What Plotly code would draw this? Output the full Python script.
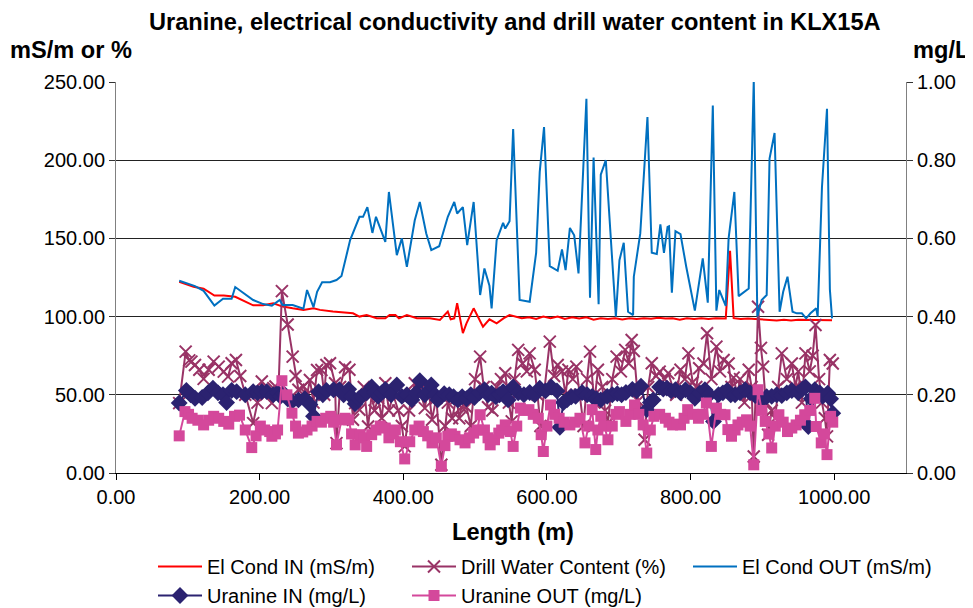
import plotly.graph_objects as go

# El Cond IN (mS/m)
el_in_len = [88, 108, 122, 137, 150, 166, 191, 205, 219, 232, 246, 261, 275, 284, 302, 321, 330, 339, 349, 363,
             375, 381, 389, 394, 405, 419, 437, 451, 462, 466, 471, 475, 483, 488, 498, 511, 520, 530, 540, 548,
             556, 565, 575, 585, 595, 605, 615, 625, 635, 645, 655, 665, 675, 685, 695, 705, 715, 725, 735, 745,
             755, 765, 775, 785, 795, 805, 815, 825, 835, 845, 849, 855, 860, 870, 880, 890, 900, 910, 920, 930,
             940, 950, 960, 970, 980, 990, 997]
el_in_val = [122.3, 119.1, 117.8, 113.5, 113.5, 112.7, 107.2, 107.2, 108.5, 106.4, 105.3, 104.3, 105.3, 104.3, 103.2,
             102.6, 102.1, 100.0, 101.0, 98.9, 98.9, 101.0, 101.0, 98.9, 101.0, 98.9, 98.9, 97.8, 103.2, 98.3,
             98.9, 108.5, 89.4, 95.7, 105.3, 93.6, 98.3, 95.7, 99.0, 101.0, 100.0, 99.0, 99.5, 98.5, 100.0, 99.0,
             100.0, 98.5, 99.5, 98.8, 99.5, 98.0, 99.0, 98.5, 99.0, 98.2, 99.0, 98.5, 99.0, 98.6, 99.2, 98.8,
             99.0, 98.0, 99.0, 98.5, 99.0, 98.5, 99.0, 98.6, 98.8, 142.0, 99.0, 98.5, 98.8, 98.5, 98.2, 97.8,
             97.5, 98.0, 97.5, 98.0, 98.0, 97.6, 97.6, 97.6, 97.6]

# El Cond OUT (mS/m)
el_out_len = [88, 101, 110, 122, 137, 149, 161, 166, 191, 205, 217, 228, 232, 246, 261, 266, 275, 280, 287, 298,
              307, 314, 326, 339, 344, 350, 357, 362, 375, 380, 391, 398, 405, 416, 423, 432, 439, 450, 462, 471,
              475, 483, 489, 498, 507, 513, 520, 523, 530, 535, 539, 542, 548, 553, 562, 576, 585, 590, 596, 604,
              615, 621, 626, 632, 638, 644, 651, 655, 660, 665, 672, 675, 682, 696, 701, 707, 713, 720, 721, 730,
              740, 746, 753, 758, 763, 768, 770, 774, 779, 786, 794, 806, 817, 824, 831, 836, 840, 849, 853, 861,
              867, 881, 888, 893, 899, 906, 910, 917, 924, 929, 935, 942, 948, 955, 961, 967, 975, 977, 983, 990,
              994, 997]
el_out_val = [122.9, 120.6, 119.5, 116.5, 107.0, 111.4, 111.4, 118.9, 110.6, 108.0, 107.0, 110.6, 107.4, 107.4, 105.0,
              117.0, 106.0, 115.9, 122.0, 122.0, 123.4, 126.0, 148.9, 163.8, 163.8, 170.0, 153.5, 163.8, 147.8, 179.7,
              139.3, 150.0, 131.8, 161.6, 173.3, 153.1, 142.5, 145.0, 163.8, 173.3, 165.9, 170.0, 145.7, 173.3, 113.8,
              130.8, 119.7, 105.3, 148.9, 155.0, 160.0, 156.3, 161.0, 220.0, 110.6, 109.5, 140.8, 192.5, 221.2, 132.3,
              129.3, 143.0, 129.7, 156.7, 152.0, 127.6, 195.0, 239.3, 112.0, 201.7, 107.9, 190.8, 200.0, 99.9, 136.1,
              147.2, 103.1, 101.0, 125.5, 153.2, 227.6, 140.8, 140.0, 158.9, 140.8, 157.4, 157.8, 115.3, 154.6, 152.7,
              131.9, 103.8, 137.2, 108.9, 235.0, 103.8, 117.0, 106.8, 150.0, 179.7, 113.1, 118.0, 251.0, 100.0, 110.6,
              113.8, 201.0, 217.4, 103.1, 115.9, 125.5, 103.1, 102.1, 102.1, 98.9, 102.1, 105.3, 100.0, 182.9, 232.9,
              117.4, 98.9]

# Drill Water Content (%)
dw_len = [88, 97, 102, 105, 110, 116, 122, 129, 136, 143, 150, 156, 161, 167, 173, 180, 191, 197, 203, 209,
          217, 219, 222, 226, 231, 239, 246, 250, 254, 261, 266, 270, 275, 280, 286, 290, 293, 298, 305, 307,
          312, 319, 325, 330, 333, 339, 345, 351, 356, 360, 365, 370, 375, 380, 386, 393, 398, 402, 408, 416,
          423, 430, 435, 440, 446, 453, 458, 462, 468, 474, 478, 481, 488, 494, 500, 507, 512, 518, 524, 530,
          536, 542, 547, 551, 555, 560, 566, 572, 576, 583, 587, 591, 597, 604, 610, 615, 621, 626, 630, 636,
          641, 646, 651, 656, 660, 666, 671, 677, 681, 685, 691, 697, 703, 709, 714, 718, 721, 727, 732, 736,
          741, 746, 752, 757, 764, 769, 775, 780, 786, 792, 797, 803, 808, 812, 818, 823, 829, 836, 841, 846,
          853, 857, 860, 865, 869, 875, 881, 885, 888, 894, 898, 901, 905, 908, 913, 918, 922, 927, 934, 941,
          946, 950, 955, 960, 966, 970, 974, 979, 983, 987, 990, 994, 998]
dw_val = [44.7, 77.6, 72.0, 71.2, 69.1, 66.0, 60.2, 66.0, 71.2, 68.0, 64.8, 61.6, 70.2, 72.3, 62.0, 50.0, 31.9, 45.0, 58.5, 50.0,
          44.7, 54.2, 55.3, 50.0, 116.3, 95.0, 74.4, 62.0, 53.2, 55.3, 50.0, 59.5, 45.0, 65.9, 65.9, 50.0, 69.1, 70.2, 57.4, 19.1,
          55.0, 67.6, 66.0, 34.0, 44.7, 40.4, 55.0, 29.7, 50.0, 40.0, 48.0, 35.0, 57.4, 40.0, 50.0, 40.0, 30.0, 17.0, 40.0, 57.4,
          53.2, 41.5, 55.0, 34.0, 48.0, 5.3, 30.0, 45.0, 35.0, 48.0, 35.0, 42.0, 42.0, 30.0, 60.0, 74.4, 55.0, 42.0, 40.0, 55.0,
          60.0, 63.8, 45.0, 33.0, 60.0, 78.7, 70.0, 65.0, 76.5, 66.0, 50.0, 30.0, 55.0, 84.0, 62.0, 69.0, 65.0, 50.0, 66.0, 60.0,
          68.0, 50.0, 30.0, 60.0, 77.6, 45.0, 66.0, 55.0, 40.0, 32.0, 60.0, 74.4, 65.0, 78.7, 70.0, 85.0, 78.0, 46.0, 40.0, 21.3,
          55.0, 70.2, 62.0, 64.8, 60.0, 63.8, 55.0, 50.0, 66.0, 60.0, 76.5, 58.0, 55.0, 67.0, 70.0, 89.3, 60.0, 80.8, 65.0, 72.3,
          70.0, 55.0, 61.0, 50.0, 60.0, 45.0, 66.0, 55.0, 10.6, 106.3, 80.0, 68.0, 45.0, 24.5, 40.0, 35.0, 55.0, 76.5, 60.0, 70.0,
          55.0, 65.0, 45.0, 76.5, 65.0, 75.0, 94.6, 60.0, 45.0, 35.0, 23.4, 72.3, 70.0]

# Uranine IN (mg/L)
uin_len = [88, 98, 104, 110, 120, 128, 135, 142, 149, 154, 161, 168, 180, 191, 197, 203, 210, 219, 225, 229,
           233, 239, 245, 254, 263, 270, 275, 282, 288, 293, 303, 311, 317, 324, 328, 333, 338, 342, 349, 356,
           360, 365, 370, 375, 383, 391, 398, 405, 412, 418, 423, 430, 435, 439, 444, 448, 457, 464, 470, 476,
           482, 488, 494, 499, 506, 513, 518, 523, 529, 534, 539, 546, 553, 560, 568, 576, 583, 590, 598, 606,
           614, 618, 623, 628, 634, 640, 649, 656, 663, 669, 675, 684, 691, 698, 704, 710, 719, 725, 731, 739,
           744, 748, 757, 762, 767, 773, 779, 786, 793, 800, 806, 813, 820, 826, 832, 839, 845, 851, 856, 862,
           869, 876, 883, 890, 899, 906, 913, 920, 927, 934, 941, 950, 956, 960, 964, 968, 973, 980, 984, 991,
           995, 998]
uin_val = [0.179, 0.211, 0.200, 0.191, 0.193, 0.205, 0.217, 0.205, 0.200, 0.180, 0.211, 0.208, 0.200, 0.208, 0.205, 0.208, 0.208, 0.200, 0.205, 0.196,
           0.204, 0.190, 0.183, 0.187, 0.190, 0.175, 0.145, 0.208, 0.200, 0.211, 0.213, 0.213, 0.200, 0.214, 0.195, 0.177, 0.190, 0.196, 0.205, 0.220,
           0.205, 0.196, 0.205, 0.214, 0.200, 0.225, 0.196, 0.200, 0.187, 0.205, 0.236, 0.200, 0.210, 0.225, 0.200, 0.187, 0.203, 0.200, 0.195, 0.187,
           0.195, 0.190, 0.200, 0.193, 0.205, 0.213, 0.200, 0.204, 0.195, 0.200, 0.208, 0.187, 0.220, 0.205, 0.200, 0.206, 0.200, 0.217, 0.210, 0.220,
           0.210, 0.117, 0.180, 0.187, 0.195, 0.196, 0.206, 0.200, 0.196, 0.190, 0.187, 0.196, 0.200, 0.203, 0.200, 0.206, 0.214, 0.210, 0.222, 0.162,
           0.180, 0.187, 0.220, 0.215, 0.217, 0.210, 0.213, 0.205, 0.213, 0.205, 0.191, 0.205, 0.213, 0.200, 0.132, 0.200, 0.205, 0.211, 0.200, 0.200,
           0.205, 0.213, 0.205, 0.198, 0.187, 0.195, 0.196, 0.200, 0.198, 0.205, 0.211, 0.205, 0.215, 0.220, 0.119, 0.190, 0.213, 0.205, 0.196, 0.204,
           0.190, 0.153]

# Uranine OUT (mg/L)
uout_len = [88, 96, 101, 106, 114, 122, 129, 136, 143, 150, 157, 165, 172, 180, 189, 195, 201, 207, 214, 217,
            222, 225, 231, 238, 245, 250, 254, 260, 266, 273, 280, 286, 292, 299, 303, 307, 314, 319, 324, 328,
            333, 340, 345, 349, 356, 362, 368, 375, 380, 385, 389, 396, 402, 409, 416, 422, 428, 434, 440, 446,
            453, 458, 462, 467, 472, 479, 486, 492, 498, 503, 507, 513, 518, 521, 527, 533, 537, 542, 549, 553,
            558, 563, 569, 575, 581, 588, 592, 595, 600, 605, 611, 617, 624, 632, 639, 646, 653, 658, 663, 668,
            671, 675, 680, 685, 691, 696, 701, 710, 716, 722, 728, 734, 739, 744, 749, 757, 765, 770, 775, 781,
            786, 791, 796, 804, 811, 817, 822, 829, 836, 842, 848, 852, 857, 862, 866, 872, 878, 883, 888, 894,
            899, 904, 909, 913, 918, 923, 929, 935, 941, 947, 953, 959, 966, 973, 975, 982, 986, 990, 995, 998]
uout_val = [0.095, 0.157, 0.150, 0.140, 0.135, 0.123, 0.135, 0.145, 0.140, 0.132, 0.125, 0.145, 0.148, 0.110, 0.065, 0.095, 0.120, 0.110, 0.106, 0.094,
            0.100, 0.110, 0.236, 0.200, 0.153, 0.120, 0.102, 0.105, 0.110, 0.120, 0.132, 0.130, 0.140, 0.145, 0.130, 0.072, 0.136, 0.140, 0.136, 0.100,
            0.072, 0.098, 0.090, 0.068, 0.098, 0.110, 0.120, 0.115, 0.090, 0.100, 0.110, 0.080, 0.036, 0.080, 0.110, 0.120, 0.106, 0.095, 0.077, 0.090,
            0.017, 0.070, 0.094, 0.100, 0.094, 0.085, 0.077, 0.090, 0.102, 0.110, 0.149, 0.110, 0.090, 0.072, 0.085, 0.102, 0.110, 0.123, 0.106, 0.068,
            0.120, 0.166, 0.160, 0.162, 0.150, 0.140, 0.098, 0.055, 0.120, 0.174, 0.150, 0.140, 0.130, 0.123, 0.130, 0.140, 0.077, 0.120, 0.162, 0.060,
            0.110, 0.145, 0.120, 0.085, 0.120, 0.150, 0.157, 0.132, 0.150, 0.174, 0.150, 0.123, 0.051, 0.110, 0.145, 0.150, 0.140, 0.130, 0.123, 0.125,
            0.123, 0.140, 0.162, 0.150, 0.140, 0.150, 0.179, 0.068, 0.166, 0.150, 0.149, 0.111, 0.094, 0.110, 0.123, 0.130, 0.136, 0.120, 0.021, 0.213,
            0.160, 0.132, 0.100, 0.064, 0.120, 0.149, 0.130, 0.106, 0.115, 0.123, 0.135, 0.149, 0.160, 0.191, 0.119, 0.077, 0.100, 0.047, 0.145, 0.130]

FONT = "Liberation Sans, Arial, sans-serif"
W, H = 965, 600  # page body has an 8px margin

fig = go.Figure()

fig.add_trace(go.Scatter(x=el_in_len, y=el_in_val, name="El Cond IN (mS/m)", mode="lines",
                         line=dict(color="#FF0000", width=2), legend="legend", legendgroup="a"))
fig.add_trace(go.Scatter(x=dw_len, y=dw_val, name="Drill Water Content (%)", mode="lines+markers",
                         line=dict(color="#993366", width=2),
                         marker=dict(symbol="x-thin", size=12, line=dict(color="#993366", width=2)),
                         legend="legend2", legendgroup="b"))
fig.add_trace(go.Scatter(x=el_out_len, y=el_out_val, name="El Cond OUT (mS/m)", mode="lines",
                         line=dict(color="#0070C0", width=2), legend="legend3", legendgroup="c"))
fig.add_trace(go.Scatter(x=uin_len, y=uin_val, name="Uranine IN (mg/L)", mode="lines+markers", yaxis="y2",
                         line=dict(color="#2B2270", width=2),
                         marker=dict(symbol="diamond", size=13, color="#2B2270"), legend="legend", legendgroup="d"))
fig.add_trace(go.Scatter(x=uout_len, y=uout_val, name="Uranine OUT (mg/L)", mode="lines+markers", yaxis="y2",
                         line=dict(color="#D4489B", width=2),
                         marker=dict(symbol="square", size=11, color="#D4489B"), legend="legend2", legendgroup="e"))

leg = dict(orientation="v", xref="container", yref="container", yanchor="top", xanchor="left",
           traceorder="grouped", tracegroupgap=0, itemwidth=44,
           font=dict(family=FONT, size=20, color="black"), bgcolor="rgba(0,0,0,0)")
leg_top = 1 - 539 / H

fig.update_layout(
    width=W, height=H,
    margin=dict(l=108, r=67, t=74, b=135, autoexpand=False),
    plot_bgcolor="white", paper_bgcolor="white",
    font=dict(family=FONT, size=20, color="black"),
    xaxis=dict(range=[0, 1100], dtick=200, tick0=0, tickformat=".2f", showgrid=False, zeroline=False,
               showline=True, linecolor="black", linewidth=1, ticks="outside", ticklen=6, tickcolor="black"),
    yaxis=dict(range=[0, 250], dtick=50, tickformat=".2f", showgrid=True, gridcolor="#222", gridwidth=1,
               zeroline=False, showline=True, linecolor="#808080", linewidth=1, ticks="outside", ticklen=6,
               tickcolor="#333"),
    yaxis2=dict(range=[0, 1], dtick=0.2, tickformat=".2f", overlaying="y", side="right", showgrid=False,
                zeroline=False, showline=True, linecolor="#808080", linewidth=1, ticks="outside", ticklen=6,
                tickcolor="#333"),
    legend=dict(leg, x=145 / W, y=leg_top),
    legend2=dict(leg, x=399 / W, y=leg_top),
    legend3=dict(leg, x=680 / W, y=leg_top),
    showlegend=True,
)

bold = dict(family=FONT, size=23.6, color="black")
fig.add_annotation(text="<b>Uranine, electrical conductivity and drill water content in KLX15A</b>",
                   xref="paper", yref="paper", x=0.505, y=1.1535, xanchor="center", yanchor="middle",
                   showarrow=False, font=bold)
fig.add_annotation(text="<b>mS/m or %</b>", xref="paper", yref="paper", x=-0.057, y=1.0818,
                   xanchor="center", yanchor="middle", showarrow=False, font=bold)
fig.add_annotation(text="<b>mg/L</b>", xref="paper", yref="paper", x=1.0443, y=1.0818,
                   xanchor="center", yanchor="middle", showarrow=False, font=bold)
fig.add_annotation(text="<b>Length (m)</b>", xref="paper", yref="paper", x=0.5025, y=-0.1509,
                   xanchor="center", yanchor="middle", showarrow=False, font=bold)

fig.write_html("out.html")
